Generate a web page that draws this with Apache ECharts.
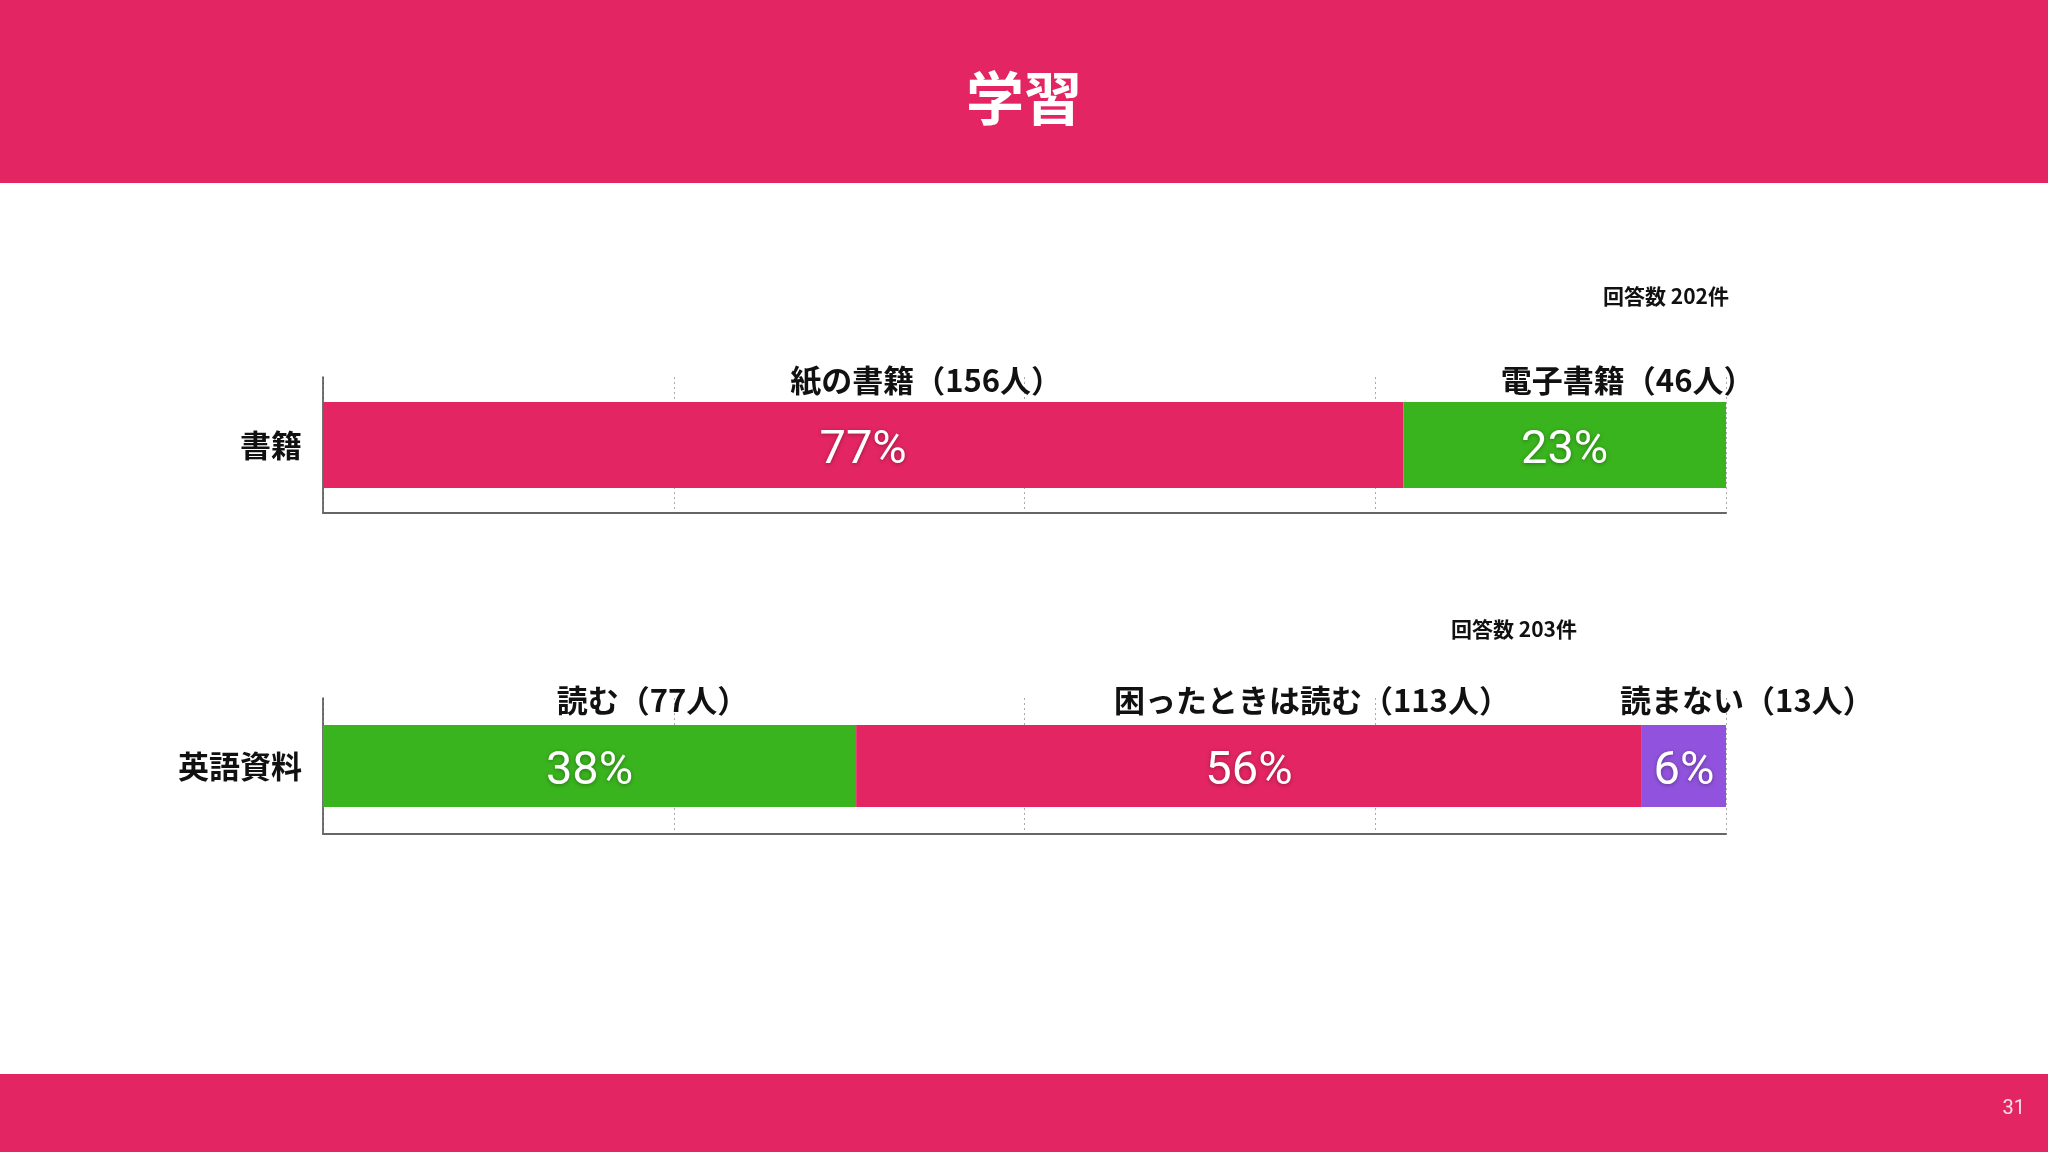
<!DOCTYPE html>
<html>
<head>
<meta charset="utf-8">
<script src="https://cdn.jsdelivr.net/npm/echarts@6/dist/echarts.min.js"></script>
<style>
html,body{margin:0;padding:0;background:#fff;}
#chart{width:2048px;height:1152px;}
</style>
</head>
<body>
<div id="chart"></div>
<script>
// ---- data ----
const pageTitle = '学習';
const pageNumber = '31';
const bookCategories = ['書籍'];
const bookSeriesNames = ['紙の書籍', '電子書籍'];
const bookCounts = [156, 46];
const bookPercents = [77, 23];
const bookTotal = 202;
const engCategories = ['英語資料'];
const engSeriesNames = ['読む', '困ったときは読む', '読まない'];
const engCounts = [77, 113, 13];
const engPercents = [38, 56, 6];
const engTotal = 203;

// ---- style ----
const PINK = '#E42563', GREEN = '#3AB41E', PURPLE = '#9153DD';
const bookColors = [PINK, GREEN];
const engColors = [GREEN, PINK, PURPLE];
const CJK = '"Noto Sans CJK JP", "Noto Sans", sans-serif';
const NUM = 'Roboto, "Noto Sans", sans-serif';

function buildSeries(names, counts, percents, colors, axisIdx, barW, dist) {
  const out = [];
  names.forEach((n, i) => {
    out.push({
      type: 'bar', name: n, stack: 'p' + axisIdx,
      xAxisIndex: axisIdx, yAxisIndex: axisIdx,
      data: [percents[i]], barWidth: barW, barGap: '-100%',
      itemStyle: { color: colors[i] },
      label: {
        show: true, position: 'inside', formatter: '{c}%', offset: [0, 6],
        color: '#fff', fontSize: 47, fontWeight: 'normal', fontFamily: NUM,
        textShadowColor: 'rgba(0,0,0,0.35)', textShadowBlur: 4, textShadowOffsetY: 1
      },
      silent: true, z: 2
    });
  });
  names.forEach((n, i) => {
    out.push({
      type: 'bar', name: n + '_lbl', stack: 'n' + axisIdx,
      xAxisIndex: axisIdx, yAxisIndex: axisIdx,
      data: [percents[i]], barWidth: barW, barGap: '-100%',
      itemStyle: { color: 'rgba(0,0,0,0)' },
      label: {
        show: true, position: 'top', distance: dist, offset: [63, 0],
        formatter: () => n + '（' + counts[i] + '人）',
        color: '#111', fontSize: 31, fontWeight: 'bold', fontFamily: CJK
      },
      silent: true, z: 3
    });
  });
  return out;
}

const xAxisBase = (gi) => ({
  type: 'value', gridIndex: gi, min: 0, max: 100, interval: 25,
  axisLabel: { show: false }, axisTick: { show: false },
  axisLine: { show: true, lineStyle: { color: '#666', width: 2 } },
  splitLine: { show: true, lineStyle: { color: '#aaa', type: [2, 3], width: 1 } }
});
const yAxisBase = (gi, cats) => ({
  type: 'category', gridIndex: gi, data: cats,
  axisTick: { show: false },
  axisLine: { show: true, lineStyle: { color: '#444', width: 1.5 } },
  axisLabel: { color: '#111', fontSize: 31, fontWeight: 'bold', fontFamily: CJK, margin: 21 }
});

const chart = echarts.init(document.getElementById('chart'));
chart.setOption({
  backgroundColor: '#fff',
  animation: false,
  title: {
    text: pageTitle, left: 'center', top: 64,
    textStyle: { color: '#fff', fontSize: 58, fontWeight: 'bold', fontFamily: CJK }
  },
  graphic: [
    { type: 'rect', z: -10, shape: { x: 0, y: 0, width: 2048, height: 183 }, style: { fill: PINK } },
    { type: 'rect', z: -10, shape: { x: 0, y: 1074, width: 2048, height: 78 }, style: { fill: PINK } },
    { type: 'text', x: 2025, y: 1109, style: { text: pageNumber, fill: 'rgba(255,255,255,0.85)', font: '20px ' + NUM, textAlign: 'right', textVerticalAlign: 'middle' } },
    { type: 'text', x: 1729, y: 296, style: { text: '回答数 ' + bookTotal + '件', fill: '#111', font: 'bold 21px ' + CJK, textAlign: 'right', textVerticalAlign: 'middle' } },
    { type: 'text', x: 1577, y: 629, style: { text: '回答数 ' + engTotal + '件', fill: '#111', font: 'bold 21px ' + CJK, textAlign: 'right', textVerticalAlign: 'middle' } }
  ],
  grid: [
    { left: 323, right: 322, top: 377, height: 136 },
    { left: 323, right: 322, top: 698, height: 136 }
  ],
  xAxis: [xAxisBase(0), xAxisBase(1)],
  yAxis: [yAxisBase(0, bookCategories), yAxisBase(1, engCategories)],
  series: [].concat(
    buildSeries(bookSeriesNames, bookCounts, bookPercents, bookColors, 0, 86, 6),
    buildSeries(engSeriesNames, engCounts, engPercents, engColors, 1, 82, 9)
  )
});
</script>
</body>
</html>
